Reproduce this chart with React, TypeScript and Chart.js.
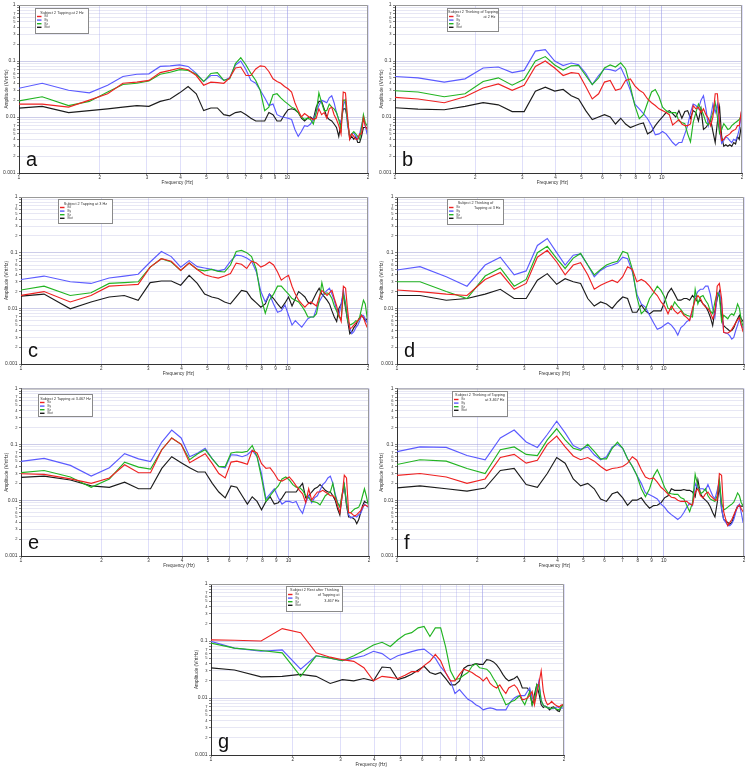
import React, { useEffect, useRef } from "react";
import { Chart, registerables } from "chart.js";

Chart.register(...registerables);

const FONT = '"Liberation Sans", Arial, sans-serif';

// Frequency bins (Hz)
const FREQ_HZ = [
  0.92, 1.22, 1.53, 1.83, 2.14, 2.44, 2.75, 3.05, 3.36, 3.66,
  3.97, 4.27, 4.58, 4.88, 5.19, 5.49, 5.8, 6.1, 6.41, 6.71,
  7.02, 7.32, 7.63, 7.93, 8.24, 8.54, 8.85, 9.16, 9.46, 9.77,
  10.07, 10.38, 10.68, 10.99, 11.29, 11.6, 11.9, 12.21, 12.51, 12.82,
  13.12, 13.43, 13.73, 14.04, 14.34, 14.65, 14.95, 15.26, 15.56, 15.87,
  16.17, 16.48, 16.78, 17.09, 17.39, 17.7, 18.0, 18.31, 18.62, 18.92,
  19.23, 19.53, 19.84, 20.14,
];
const X_TICKS = [1, 2, 3, 4, 5, 6, 7, 8, 9, 10, 20];
const Y_TICKS = [
  0.001, 0.002, 0.003, 0.004, 0.005, 0.006, 0.007, 0.008, 0.009,
  0.01, 0.02, 0.03, 0.04, 0.05, 0.06, 0.07, 0.08, 0.09,
  0.1, 0.2, 0.3, 0.4, 0.5, 0.6, 0.7, 0.8, 0.9, 1,
];
const SERIES_NAMES = ["Bx", "By", "Bz", "Btot"];
const SERIES_COLORS = ["#ee2222", "#5b5bff", "#22b422", "#1c1c1c"];

// ---- panel a : Subject 2 Tapping at 2 Hz
const A_BX = [
  0.017, 0.017, 0.015, 0.02, 0.026, 0.04, 0.042, 0.045, 0.062, 0.068,
  0.075, 0.07, 0.055, 0.037, 0.042, 0.041, 0.04, 0.05, 0.075, 0.078,
  0.055, 0.055, 0.072, 0.082, 0.08, 0.065, 0.048, 0.043, 0.04, 0.035,
  0.032, 0.028, 0.018, 0.013, 0.01, 0.0115, 0.0105, 0.0095, 0.009, 0.0095,
  0.014, 0.011, 0.012, 0.0095, 0.014, 0.015, 0.011, 0.009, 0.007, 0.005,
  0.028, 0.027, 0.01, 0.004, 0.005, 0.0045, 0.004, 0.004, 0.005, 0.005,
  0.0095, 0.007, 0.006, 0.006,
];
const A_BY = [
  0.03, 0.04, 0.03, 0.027, 0.037, 0.053, 0.058, 0.059, 0.08, 0.082,
  0.085, 0.08, 0.06, 0.043, 0.055, 0.055, 0.045, 0.05, 0.085, 0.1,
  0.07, 0.045, 0.04, 0.03, 0.022, 0.016, 0.017, 0.011, 0.0102, 0.0098,
  0.0095, 0.009, 0.006, 0.0045, 0.0055, 0.007, 0.0068, 0.0075, 0.009, 0.012,
  0.016, 0.02, 0.019, 0.018, 0.022, 0.024, 0.018, 0.012, 0.009, 0.008,
  0.016, 0.02, 0.007, 0.0045, 0.005, 0.0052, 0.0045, 0.004, 0.005, 0.007,
  0.0095, 0.007, 0.005, 0.005,
];
const A_BZ = [
  0.018, 0.023, 0.016, 0.019, 0.028, 0.038, 0.04, 0.044, 0.058, 0.063,
  0.07, 0.068, 0.058, 0.043, 0.06, 0.062, 0.045, 0.048, 0.09, 0.115,
  0.085, 0.06, 0.045, 0.03, 0.013, 0.015, 0.025, 0.026, 0.022, 0.019,
  0.017, 0.015, 0.014, 0.012, 0.01, 0.009, 0.0095, 0.009, 0.0075, 0.012,
  0.027, 0.018, 0.013, 0.013, 0.017, 0.015, 0.014, 0.012, 0.009, 0.006,
  0.02, 0.02, 0.008, 0.0045, 0.005, 0.0055, 0.005, 0.0045, 0.004, 0.0065,
  0.011, 0.008, 0.007, 0.0065,
];
const A_BT = [
  0.014, 0.0155, 0.012, 0.013, 0.014, 0.015, 0.016, 0.0155, 0.019, 0.021,
  0.027, 0.035, 0.026, 0.013, 0.0145, 0.0145, 0.011, 0.0105, 0.012, 0.0125,
  0.011, 0.0095, 0.0085, 0.0085, 0.0085, 0.012, 0.011, 0.0085, 0.0085, 0.011,
  0.0135, 0.014, 0.0135, 0.012, 0.0095, 0.0085, 0.0095, 0.01, 0.009, 0.015,
  0.019, 0.019, 0.014, 0.01, 0.009, 0.0085, 0.0075, 0.0065, 0.0045, 0.008,
  0.014, 0.014, 0.009, 0.004, 0.0045, 0.004, 0.0045, 0.0035, 0.0035, 0.0045,
  0.0065, 0.0065, 0.0065, 0.0058,
];

// ---- panel b : Subject 2 Thinking of Tapping at 2 Hz
const B_BX = [
  0.023, 0.021, 0.018, 0.023, 0.033, 0.039, 0.03, 0.037, 0.08, 0.1,
  0.075, 0.055, 0.062, 0.06, 0.035, 0.021, 0.026, 0.042, 0.045, 0.03,
  0.032, 0.045, 0.048, 0.036, 0.03, 0.027, 0.021, 0.018, 0.016, 0.014,
  0.013, 0.012, 0.011, 0.0072, 0.008, 0.009, 0.0075, 0.007, 0.007, 0.0075,
  0.016, 0.014, 0.015, 0.012, 0.014, 0.011, 0.0095, 0.007, 0.01, 0.026,
  0.026, 0.008, 0.0038, 0.004, 0.0045, 0.0047, 0.005, 0.0055, 0.0058, 0.006,
  0.007, 0.007, 0.012, 0.011,
];
const B_BY = [
  0.054, 0.05, 0.042, 0.048, 0.075, 0.078, 0.062, 0.068, 0.15, 0.16,
  0.1, 0.083, 0.092, 0.086, 0.06, 0.038, 0.055, 0.072, 0.07, 0.066,
  0.077, 0.05, 0.03, 0.017, 0.014, 0.0115, 0.0093, 0.007, 0.0048, 0.005,
  0.0055, 0.005, 0.0042, 0.0035, 0.0031, 0.0035, 0.0035, 0.005, 0.007, 0.012,
  0.017, 0.016, 0.014, 0.02, 0.024, 0.014, 0.007, 0.01, 0.017, 0.012,
  0.017, 0.006, 0.0034, 0.0038, 0.0044, 0.0042, 0.0038, 0.0035, 0.004, 0.0038,
  0.0045, 0.006, 0.011, 0.009,
];
const B_BZ = [
  0.03, 0.028, 0.023, 0.026, 0.043, 0.05, 0.037, 0.047, 0.1, 0.12,
  0.085, 0.069, 0.082, 0.083, 0.055, 0.038, 0.05, 0.075, 0.085, 0.078,
  0.093, 0.073, 0.035, 0.016, 0.0093, 0.011, 0.018, 0.028, 0.031, 0.023,
  0.015, 0.013, 0.012, 0.012, 0.012, 0.0085, 0.008, 0.0076, 0.005, 0.0036,
  0.008, 0.012, 0.017, 0.014, 0.011, 0.008, 0.0072, 0.009, 0.012, 0.018,
  0.01, 0.0051, 0.006, 0.0076, 0.0068, 0.006, 0.0062, 0.007, 0.0075, 0.008,
  0.0085, 0.009, 0.0105, 0.0095,
];
const B_BT = [
  0.015, 0.0138, 0.0135, 0.0155, 0.018, 0.0165, 0.0125, 0.0125, 0.029, 0.034,
  0.029, 0.031, 0.024, 0.021, 0.013, 0.009, 0.01, 0.011, 0.01, 0.0075,
  0.0095, 0.0075, 0.0065, 0.007, 0.0075, 0.0078, 0.005, 0.0055, 0.007, 0.0085,
  0.01, 0.012, 0.013, 0.0115, 0.01, 0.013, 0.0095, 0.0125, 0.013, 0.0095,
  0.013, 0.012, 0.0085, 0.014, 0.006, 0.0065, 0.0075, 0.009, 0.0055, 0.0035,
  0.008, 0.015, 0.0045, 0.003, 0.0032, 0.003, 0.0032, 0.003, 0.0035, 0.0033,
  0.0045, 0.004, 0.0065, 0.0075,
];

// ---- panel c : Subject 2 Tapping at 3 Hz
const C_BX = [
  0.016, 0.02, 0.013, 0.017, 0.025, 0.026, 0.027, 0.055, 0.078, 0.07,
  0.048, 0.065, 0.05, 0.04, 0.037, 0.035, 0.038, 0.042, 0.065, 0.062,
  0.052, 0.07, 0.065, 0.055, 0.06, 0.068, 0.06, 0.045, 0.032, 0.036,
  0.039, 0.025, 0.018, 0.014, 0.012, 0.0105, 0.012, 0.013, 0.012, 0.011,
  0.016, 0.021, 0.019, 0.017, 0.019, 0.021, 0.015, 0.011, 0.0075, 0.0058,
  0.025, 0.023, 0.009, 0.0043, 0.0045, 0.005, 0.0055, 0.006, 0.0065, 0.0075,
  0.0068, 0.0055, 0.0046, 0.0046,
];
const C_BY = [
  0.031, 0.038, 0.03, 0.028, 0.035, 0.038, 0.041, 0.068, 0.105, 0.085,
  0.055, 0.072, 0.056, 0.053, 0.05, 0.047, 0.05, 0.07, 0.09, 0.088,
  0.08, 0.07, 0.045, 0.02, 0.013, 0.018, 0.012, 0.0085, 0.009, 0.0115,
  0.0075, 0.005, 0.006, 0.0052, 0.0046, 0.0055, 0.0065, 0.007, 0.007, 0.01,
  0.013, 0.016, 0.019, 0.021, 0.023, 0.018, 0.014, 0.009, 0.0075, 0.012,
  0.021, 0.012, 0.0065, 0.0045, 0.0035, 0.0038, 0.0045, 0.005, 0.006, 0.0075,
  0.0075, 0.0065, 0.0055, 0.0055,
];
const C_BZ = [
  0.02, 0.025, 0.017, 0.019, 0.028, 0.029, 0.03, 0.055, 0.078, 0.068,
  0.048, 0.065, 0.05, 0.047, 0.05, 0.046, 0.045, 0.06, 0.105, 0.11,
  0.1, 0.085, 0.05, 0.016, 0.0082, 0.014, 0.018, 0.025, 0.025, 0.021,
  0.018, 0.015, 0.014, 0.013, 0.011, 0.009, 0.007, 0.007, 0.007, 0.008,
  0.014, 0.029, 0.018, 0.019, 0.018, 0.015, 0.011, 0.009, 0.007, 0.0065,
  0.018, 0.012, 0.006, 0.005, 0.0052, 0.0055, 0.006, 0.0058, 0.007, 0.01,
  0.014, 0.012, 0.007, 0.005,
];
const C_BT = [
  0.016, 0.018, 0.0098, 0.013, 0.016, 0.017, 0.014, 0.029, 0.031, 0.031,
  0.026, 0.039, 0.028, 0.018, 0.016, 0.015, 0.013, 0.012, 0.016, 0.021,
  0.02, 0.015, 0.0125, 0.0105, 0.012, 0.018, 0.015, 0.012, 0.01, 0.0125,
  0.016, 0.011, 0.015, 0.02, 0.018, 0.016, 0.013, 0.012, 0.015, 0.019,
  0.023, 0.018, 0.016, 0.014, 0.012, 0.009, 0.007, 0.0058, 0.01, 0.012,
  0.018, 0.01, 0.006, 0.0035, 0.0038, 0.0045, 0.005, 0.006, 0.0068, 0.0075,
  0.0068, 0.006, 0.0065, 0.0065,
];

// ---- panel d : Subject 2 Thinking of Tapping at 3 Hz
const D_BX = [
  0.022, 0.02, 0.018, 0.017, 0.033, 0.044, 0.022, 0.028, 0.083, 0.11,
  0.068, 0.04, 0.06, 0.066, 0.04, 0.022, 0.026, 0.029, 0.032, 0.029,
  0.037, 0.056, 0.05, 0.03, 0.033, 0.03, 0.025, 0.02, 0.017, 0.013,
  0.011, 0.008, 0.011, 0.009, 0.008, 0.009, 0.0075, 0.0068, 0.006, 0.01,
  0.014, 0.017, 0.015, 0.012, 0.0105, 0.01, 0.0085, 0.0065, 0.008, 0.025,
  0.028, 0.015, 0.0037, 0.0036, 0.0036, 0.0038, 0.0042, 0.0048, 0.0055, 0.0062,
  0.0068, 0.005, 0.0038, 0.0038,
];
const D_BY = [
  0.046, 0.056, 0.037, 0.025, 0.06, 0.083, 0.04, 0.047, 0.135, 0.18,
  0.1, 0.06, 0.09, 0.095, 0.06, 0.037, 0.048, 0.056, 0.06, 0.065,
  0.083, 0.078, 0.045, 0.018, 0.012, 0.0105, 0.0075, 0.0055, 0.0042, 0.0045,
  0.005, 0.0055, 0.005, 0.0042, 0.0033, 0.0045, 0.005, 0.0058, 0.0062, 0.009,
  0.016, 0.02, 0.022, 0.022, 0.025, 0.025, 0.018, 0.01, 0.007, 0.017,
  0.019, 0.012, 0.0037, 0.0036, 0.0035, 0.0032, 0.0028, 0.003, 0.004, 0.005,
  0.0065, 0.005, 0.0044, 0.0044,
];
const D_BZ = [
  0.03, 0.03, 0.02, 0.015, 0.038, 0.053, 0.025, 0.033, 0.1, 0.13,
  0.078, 0.052, 0.08, 0.097, 0.06, 0.04, 0.05, 0.06, 0.066, 0.07,
  0.105, 0.098, 0.05, 0.016, 0.008, 0.0095, 0.015, 0.019, 0.025, 0.021,
  0.016, 0.01, 0.0095, 0.013, 0.011, 0.0095, 0.008, 0.0075, 0.0072, 0.007,
  0.022, 0.012, 0.016, 0.017, 0.014, 0.012, 0.009, 0.008, 0.013, 0.019,
  0.017, 0.0058, 0.0075, 0.007, 0.0065, 0.0075, 0.008, 0.0075, 0.009, 0.012,
  0.01, 0.006, 0.0048, 0.0048,
];
const D_BT = [
  0.017, 0.017, 0.014, 0.015, 0.018, 0.022, 0.015, 0.015, 0.032, 0.042,
  0.027, 0.034, 0.03, 0.028, 0.015, 0.011, 0.013, 0.012, 0.01, 0.013,
  0.016, 0.015, 0.0085, 0.0085, 0.0115, 0.009, 0.0079, 0.009, 0.009, 0.009,
  0.013, 0.019, 0.023, 0.018, 0.014, 0.014, 0.015, 0.015, 0.014, 0.017,
  0.015, 0.013, 0.014, 0.012, 0.011, 0.009, 0.007, 0.0049, 0.009, 0.015,
  0.02, 0.007, 0.0049, 0.0045, 0.0042, 0.0039, 0.004, 0.0045, 0.0055, 0.0065,
  0.0075, 0.0065, 0.0058, 0.0058,
];

// ---- panel e : Subject 2 Tapping at 3.467 Hz
const E_BX = [
  0.03, 0.029, 0.024, 0.02, 0.025, 0.043, 0.031, 0.031, 0.08, 0.13,
  0.1, 0.047, 0.057, 0.068, 0.045, 0.03, 0.025, 0.048, 0.05, 0.047,
  0.044, 0.078, 0.07, 0.045, 0.037, 0.038, 0.03, 0.023, 0.022, 0.024,
  0.026, 0.022, 0.018, 0.015, 0.013, 0.009, 0.016, 0.01, 0.012, 0.014,
  0.014, 0.015, 0.014, 0.013, 0.012, 0.012, 0.011, 0.008, 0.006, 0.012,
  0.028, 0.025, 0.006, 0.006, 0.0055, 0.0052, 0.0055, 0.006, 0.0065, 0.0075,
  0.0082, 0.008, 0.0077, 0.0077,
];
const E_BY = [
  0.047, 0.056, 0.042, 0.027, 0.038, 0.068, 0.055, 0.049, 0.11, 0.18,
  0.13, 0.06, 0.07, 0.085, 0.055, 0.04, 0.038, 0.065, 0.064, 0.06,
  0.065, 0.078, 0.06, 0.03, 0.0105, 0.013, 0.016, 0.011, 0.0085, 0.0095,
  0.0095, 0.009, 0.0095, 0.007, 0.0058, 0.009, 0.012, 0.009, 0.011, 0.012,
  0.015, 0.019, 0.021, 0.025, 0.027, 0.02, 0.013, 0.009, 0.0075, 0.012,
  0.019, 0.009, 0.0055, 0.0048, 0.005, 0.0052, 0.005, 0.0055, 0.0058, 0.007,
  0.0085, 0.008, 0.0075, 0.0075,
];
const E_BZ = [
  0.03, 0.034, 0.026, 0.017, 0.024, 0.048, 0.039, 0.036, 0.08, 0.13,
  0.1, 0.053, 0.068, 0.08, 0.055, 0.04, 0.04, 0.07, 0.073, 0.072,
  0.075, 0.095, 0.06, 0.025, 0.0095, 0.012, 0.015, 0.018, 0.024, 0.026,
  0.023, 0.019, 0.017, 0.017, 0.015, 0.012, 0.011, 0.0095, 0.0093, 0.009,
  0.0082, 0.01, 0.012, 0.013, 0.014, 0.02, 0.012, 0.009, 0.0076, 0.013,
  0.019, 0.009, 0.006, 0.006, 0.0065, 0.007, 0.0072, 0.0075, 0.009, 0.012,
  0.016, 0.012, 0.0085, 0.0085,
];
const E_BT = [
  0.025, 0.027, 0.023, 0.018, 0.017, 0.021, 0.016, 0.016, 0.037, 0.06,
  0.047, 0.038, 0.032, 0.032, 0.02, 0.014, 0.011, 0.018, 0.017, 0.012,
  0.0085, 0.0115, 0.0095, 0.0067, 0.0095, 0.0115, 0.0085, 0.009, 0.011, 0.014,
  0.014, 0.014, 0.014, 0.017, 0.02, 0.011, 0.012, 0.014, 0.016, 0.017,
  0.019, 0.017, 0.015, 0.014, 0.014, 0.012, 0.01, 0.007, 0.0054, 0.012,
  0.018, 0.008, 0.005, 0.005, 0.0048, 0.0045, 0.0038, 0.0045, 0.006, 0.008,
  0.0095, 0.009, 0.009, 0.009,
];

// ---- panel f : Subject 2 Thinking of Tapping at 3.467 Hz
const F_BX = [
  0.027, 0.03, 0.026, 0.02, 0.024, 0.058, 0.066, 0.046, 0.052, 0.1,
  0.14, 0.09, 0.062, 0.053, 0.058, 0.05, 0.04, 0.034, 0.037, 0.038,
  0.04, 0.046, 0.06, 0.052, 0.035, 0.026, 0.024, 0.025, 0.021, 0.017,
  0.015, 0.0128, 0.0113, 0.011, 0.01, 0.0095, 0.0095, 0.0095, 0.0085, 0.0082,
  0.014, 0.016, 0.012, 0.011, 0.013, 0.014, 0.012, 0.011, 0.01, 0.01,
  0.03, 0.028, 0.0062, 0.0045, 0.0035, 0.004, 0.0045, 0.0054, 0.0065, 0.0075,
  0.0082, 0.007, 0.0062, 0.0062,
];
const F_BY = [
  0.068, 0.09, 0.088, 0.063, 0.053, 0.13, 0.18, 0.11, 0.088, 0.15,
  0.26, 0.16, 0.095, 0.082, 0.09, 0.065, 0.053, 0.06, 0.09, 0.1,
  0.085, 0.055, 0.04, 0.028, 0.02, 0.0135, 0.0125, 0.0115, 0.0105, 0.0085,
  0.0075, 0.0062, 0.0055, 0.005, 0.0045, 0.005, 0.006, 0.0075, 0.0088, 0.008,
  0.02, 0.016, 0.016, 0.016, 0.015, 0.019, 0.015, 0.012, 0.0105, 0.015,
  0.023, 0.007, 0.0045, 0.004, 0.0035, 0.0035, 0.0038, 0.0045, 0.006, 0.0078,
  0.0085, 0.006, 0.004, 0.004,
];
const F_BZ = [
  0.04, 0.053, 0.05, 0.037, 0.03, 0.08, 0.09, 0.066, 0.063, 0.12,
  0.19, 0.12, 0.085, 0.078, 0.1, 0.075, 0.055, 0.055, 0.085, 0.11,
  0.085, 0.055, 0.04, 0.028, 0.016, 0.0115, 0.016, 0.027, 0.035, 0.025,
  0.017, 0.0135, 0.013, 0.0127, 0.0127, 0.011, 0.0105, 0.008, 0.0062, 0.009,
  0.029, 0.018, 0.013, 0.014, 0.016, 0.012, 0.0105, 0.01, 0.0095, 0.012,
  0.023, 0.009, 0.0067, 0.007, 0.0075, 0.008, 0.0085, 0.0092, 0.011, 0.0135,
  0.012, 0.009, 0.008, 0.008,
];
const F_BT = [
  0.016, 0.018, 0.016, 0.0145, 0.0165, 0.034, 0.037, 0.019, 0.017, 0.03,
  0.058, 0.046, 0.024, 0.018, 0.02, 0.016, 0.0105, 0.0095, 0.013, 0.014,
  0.011, 0.0081, 0.01, 0.01, 0.011, 0.0087, 0.0072, 0.008, 0.0081, 0.009,
  0.011, 0.012, 0.016, 0.015, 0.015, 0.015, 0.0155, 0.015, 0.015, 0.014,
  0.0115, 0.023, 0.013, 0.011, 0.01, 0.009, 0.0076, 0.006, 0.005, 0.009,
  0.018, 0.007, 0.0045, 0.0042, 0.004, 0.0037, 0.004, 0.005, 0.0065, 0.0078,
  0.0078, 0.0078, 0.0078, 0.0078,
];

// ---- panel g : Subject 2 Rest after Thinking of Tapping at 3.467 Hz
const G_BX = [
  0.105, 0.103, 0.1, 0.165, 0.14, 0.062, 0.052, 0.047, 0.044, 0.034,
  0.02, 0.024, 0.023, 0.022, 0.025, 0.029, 0.029, 0.037, 0.044, 0.058,
  0.045, 0.028, 0.02, 0.02, 0.026, 0.032, 0.03, 0.028, 0.025, 0.023,
  0.02, 0.023, 0.018, 0.016, 0.015, 0.017, 0.014, 0.012, 0.015, 0.016,
  0.017, 0.015, 0.012, 0.0093, 0.0095, 0.01, 0.011, 0.013, 0.0076, 0.012,
  0.018, 0.03, 0.013, 0.009, 0.0076, 0.008, 0.0087, 0.008, 0.0075, 0.0072,
  0.007, 0.0075, 0.0076, 0.0076,
];
const G_BY = [
  0.11, 0.075, 0.066, 0.07, 0.032, 0.055, 0.05, 0.045, 0.05, 0.055,
  0.066, 0.06, 0.047, 0.055, 0.06, 0.065, 0.07, 0.072, 0.06, 0.05,
  0.035, 0.028, 0.02, 0.012, 0.014, 0.0115, 0.0095, 0.0087, 0.0076, 0.007,
  0.0062, 0.0065, 0.0067, 0.0065, 0.0062, 0.0062, 0.0062, 0.0062, 0.0076, 0.009,
  0.01, 0.0107, 0.011, 0.011, 0.011, 0.013, 0.015, 0.01, 0.009, 0.013,
  0.02, 0.009, 0.0075, 0.007, 0.0068, 0.0066, 0.0065, 0.0065, 0.0068, 0.007,
  0.0067, 0.0066, 0.0067, 0.0067,
];
const G_BZ = [
  0.1, 0.075, 0.068, 0.062, 0.024, 0.055, 0.05, 0.045, 0.055, 0.068,
  0.085, 0.095, 0.08, 0.105, 0.13, 0.14, 0.17, 0.18, 0.12, 0.17,
  0.17, 0.08, 0.03, 0.021, 0.022, 0.025, 0.028, 0.036, 0.04, 0.034,
  0.033, 0.032, 0.028, 0.022, 0.018, 0.013, 0.01, 0.0076, 0.008, 0.0087,
  0.009, 0.01, 0.011, 0.009, 0.0076, 0.01, 0.013, 0.0076, 0.009, 0.017,
  0.017, 0.009, 0.0075, 0.007, 0.0067, 0.0067, 0.0065, 0.0068, 0.0065, 0.0063,
  0.0062, 0.007, 0.0075, 0.0075,
];
const G_BT = [
  0.035, 0.031, 0.0235, 0.024, 0.026, 0.024, 0.018, 0.021, 0.02, 0.022,
  0.02, 0.035, 0.034, 0.021, 0.023, 0.026, 0.031, 0.036, 0.028, 0.026,
  0.028, 0.022, 0.017, 0.017, 0.02, 0.033, 0.037, 0.038, 0.04, 0.039,
  0.039, 0.047, 0.046, 0.043, 0.038, 0.032, 0.026, 0.022, 0.02, 0.021,
  0.022, 0.024, 0.02, 0.015, 0.015, 0.015, 0.013, 0.0076, 0.0115, 0.017,
  0.012, 0.0076, 0.0068, 0.0072, 0.0068, 0.0062, 0.0068, 0.007, 0.0065, 0.006,
  0.0058, 0.007, 0.0076, 0.0076,
];

type Box = { x: number; y: number; w: number; h: number };
type PanelCfg = {
  letter: string;
  title: string[];
  left: number; top: number; w: number; h: number;
  yw: number; pt: number; pr: number; xh: number;
  legend: Box;
  series: number[][];
};

const PANELS: PanelCfg[] = [
  { letter: "a", title: ["Subject 2 Tapping at 2 Hz"], left: 0, top: 0, w: 375, h: 192, yw: 19, pt: 5, pr: 7, xh: 19, legend: { x: 16, y: 3, w: 53, h: 25 }, series: [A_BX, A_BY, A_BZ, A_BT] },
  { letter: "b", title: ["Subject 2 Thinking of Tapping", "at 2 Hz"], left: 375, top: 0, w: 375, h: 192, yw: 20, pt: 5, pr: 8, xh: 19, legend: { x: 52, y: 3, w: 51, h: 23 }, series: [B_BX, B_BY, B_BZ, B_BT] },
  { letter: "c", title: ["Subject 2 Tapping at 3 Hz"], left: 0, top: 192, w: 375, h: 192, yw: 21, pt: 5, pr: 7, xh: 20, legend: { x: 37, y: 2, w: 54, h: 24 }, series: [C_BX, C_BY, C_BZ, C_BT] },
  { letter: "d", title: ["Subject 2 Thinking of", "Tapping at 3 Hz"], left: 375, top: 192, w: 375, h: 192, yw: 22, pt: 5, pr: 6, xh: 20, legend: { x: 50, y: 2, w: 56, h: 25 }, series: [D_BX, D_BY, D_BZ, D_BT] },
  { letter: "e", title: ["Subject 2 Tapping at 3.467 Hz"], left: 0, top: 384, w: 375, h: 192, yw: 21, pt: 4, pr: 6, xh: 20, legend: { x: 17, y: 5, w: 54, h: 22 }, series: [E_BX, E_BY, E_BZ, E_BT] },
  { letter: "f", title: ["Subject 2 Thinking of Tapping", "at 3.467 Hz"], left: 375, top: 384, w: 375, h: 192, yw: 22, pt: 4, pr: 6, xh: 20, legend: { x: 55, y: 2, w: 55, h: 25 }, series: [F_BX, F_BY, F_BZ, F_BT] },
  { letter: "g", title: ["Subject 2 Rest after Thinking", "of Tapping at", "3.467 Hz"], left: 190, top: 576, w: 380, h: 192, yw: 21, pt: 8, pr: 6, xh: 13, legend: { x: 75, y: 2, w: 56, h: 25 }, series: [G_BX, G_BY, G_BZ, G_BT] },
];

const GRID_Y_MINOR = "rgba(160,160,210,0.32)";
const GRID_Y_MAJOR = "rgba(140,140,205,0.55)";
const GRID_X_MINOR = "rgba(150,150,240,0.38)";
const GRID_X_MAJOR = "rgba(130,130,230,0.6)";

function mantissa(v: number): number {
  const e = Math.floor(Math.log10(v) + 1e-9);
  return Math.round(v / Math.pow(10, e));
}
function isDecade(v?: number): boolean {
  if (v === undefined || v === null) return true;
  return mantissa(v) === 1;
}
function xLabel(v: number): string {
  if (isDecade(v)) return String(Math.round(v));
  return String(mantissa(v));
}
function yLabel(v: number): string {
  if (isDecade(v)) {
    if (v >= 1) return "1";
    const d = Math.round(-Math.log10(v));
    return v.toFixed(d);
  }
  const m = mantissa(v);
  return m >= 8 ? "" : String(m);
}

function Panel({ cfg }: { cfg: PanelCfg }) {
  const ref = useRef<HTMLCanvasElement | null>(null);

  useEffect(() => {
    const canvas = ref.current;
    if (!canvas) return;
    const drawOrder = [0, 2, 1, 3];
    const datasets = drawOrder.map((i) => ({
      label: SERIES_NAMES[i],
      data: FREQ_HZ.map((f, j) => ({ x: f, y: cfg.series[i][j] })),
      borderColor: SERIES_COLORS[i],
      backgroundColor: SERIES_COLORS[i],
      borderWidth: 1.15,
      pointRadius: 0,
      tension: 0,
      fill: false,
    }));

    const decor = {
      id: "panelDecor",
      afterDraw(chart: any) {
        const { ctx, chartArea: ca } = chart;
        ctx.save();
        // top & right frame
        ctx.strokeStyle = "#9a9a9a";
        ctx.lineWidth = 1;
        ctx.beginPath();
        ctx.moveTo(ca.left, ca.top + 0.5);
        ctx.lineTo(ca.right - 0.5, ca.top + 0.5);
        ctx.lineTo(ca.right - 0.5, ca.bottom);
        ctx.stroke();

        // x title
        ctx.fillStyle = "#333";
        ctx.font = `4.6px ${FONT}`;
        ctx.textAlign = "center";
        ctx.textBaseline = "middle";
        ctx.fillText("Frequency (Hz)", ca.left + 0.454 * (ca.right - ca.left), ca.bottom + 9.5);

        // panel letter
        ctx.fillStyle = "#111";
        ctx.font = `20px ${FONT}`;
        ctx.textAlign = "left";
        ctx.textBaseline = "alphabetic";
        ctx.fillText(cfg.letter, ca.left + 7, ca.bottom - 7);

        // legend box
        const L = cfg.legend;
        const bx = Math.round(ca.left + L.x) + 0.5;
        const by = Math.round(ca.top + L.y) + 0.5;
        ctx.fillStyle = "#ffffff";
        ctx.fillRect(bx, by, L.w, L.h);
        ctx.strokeStyle = "#8a8a8a";
        ctx.lineWidth = 1;
        ctx.strokeRect(bx, by, L.w, L.h);
        ctx.fillStyle = "#333";
        ctx.font = `3.8px ${FONT}`;
        ctx.textBaseline = "middle";
        const multi = cfg.title.length > 1;
        cfg.title.forEach((line, i) => {
          if (i === 0) {
            ctx.textAlign = "center";
            ctx.fillText(line, bx + L.w / 2, by + (multi ? 3 : 4));
          } else {
            ctx.textAlign = "right";
            ctx.fillText(line, bx + L.w - 3, by + 3 + i * 5.5);
          }
        });
        for (let j = 0; j < 4; j++) {
          const iy = by + 8 + j * 3.6;
          ctx.strokeStyle = SERIES_COLORS[j];
          ctx.lineWidth = 1.4;
          ctx.beginPath();
          ctx.moveTo(bx + 1.5, iy);
          ctx.lineTo(bx + 6, iy);
          ctx.stroke();
          ctx.fillStyle = "#444";
          ctx.font = `3px ${FONT}`;
          ctx.textAlign = "left";
          ctx.fillText(SERIES_NAMES[j], bx + 9, iy);
        }
        ctx.restore();
      },
    };

    const chart = new Chart(canvas, {
      type: "line",
      data: { datasets },
      plugins: [decor],
      options: {
        responsive: false,
        animation: false,
        devicePixelRatio: 1,
        events: [],
        layout: { padding: { top: cfg.pt, right: cfg.pr, left: 0, bottom: 0 } },
        plugins: {
          legend: { display: false },
          tooltip: { enabled: false },
          title: { display: false },
        },
        scales: {
          x: {
            type: "logarithmic",
            min: 1,
            max: 20,
            afterBuildTicks: (s: any) => {
              s.ticks = X_TICKS.map((v) => ({ value: v }));
            },
            afterFit: (s: any) => {
              s.height = cfg.xh;
            },
            ticks: {
              autoSkip: false,
              maxRotation: 0,
              minRotation: 0,
              padding: 0,
              color: "#333",
              font: (c: any) => ({ size: isDecade(c.tick?.value) ? 5 : 4.5, family: FONT }),
              callback: (v: any) => xLabel(Number(v)),
            },
            grid: {
              color: (c: any) => (isDecade(c.tick?.value) ? GRID_X_MAJOR : GRID_X_MINOR),
              lineWidth: 0.8,
              tickLength: 2,
              tickColor: "#666",
            },
            border: { display: true, color: "#333", width: 1 },
          },
          y: {
            type: "logarithmic",
            min: 0.001,
            max: 1,
            afterBuildTicks: (s: any) => {
              s.ticks = Y_TICKS.map((v) => ({ value: v }));
            },
            afterFit: (s: any) => {
              s.width = cfg.yw;
            },
            ticks: {
              autoSkip: false,
              padding: 1.5,
              color: "#333",
              font: (c: any) => ({ size: isDecade(c.tick?.value) ? 5 : 4, family: FONT }),
              callback: (v: any) => yLabel(Number(v)),
            },
            grid: {
              color: (c: any) => (isDecade(c.tick?.value) ? GRID_Y_MAJOR : GRID_Y_MINOR),
              lineWidth: 0.8,
              tickLength: 2,
              tickColor: "#666",
            },
            border: { display: true, color: "#333", width: 1 },
            title: {
              display: true,
              text: "Amplitude (V/rtHz)",
              color: "#333",
              font: { size: 4.8, family: FONT },
              padding: { top: 4, bottom: 0 },
            },
          },
        },
      },
    } as any);

    return () => chart.destroy();
  }, [cfg]);

  return (
    <canvas
      ref={ref}
      width={cfg.w}
      height={cfg.h}
      style={{ position: "absolute", left: cfg.left, top: cfg.top, width: cfg.w, height: cfg.h, display: "block" }}
    />
  );
}

export default function App() {
  return (
    <div style={{ position: "absolute", left: 0, top: 0, width: 750, height: 768, background: "#ffffff", overflow: "hidden" }}>
      {PANELS.map((p) => (
        <Panel key={p.letter} cfg={p} />
      ))}
    </div>
  );
}
